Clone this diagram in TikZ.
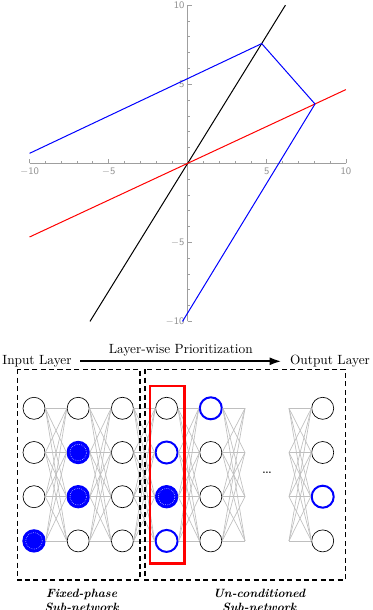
\documentclass[tikz,border=0pt]{standalone}
\usepackage{amsmath}
\usepackage{tikz}
\usetikzlibrary{arrows.meta,positioning}

\begin{document}
\begin{tikzpicture}[x=0.75pt, y=-0.75pt, neu/.style={circle, draw, fill=white, minimum size=16.5pt, inner sep=0pt, line width=0.5pt}, hot/.style={neu, draw=blue, line width=1.5pt}, act/.style={neu, draw=blue, fill=blue, line width=1pt, path picture={\draw[white, densely dotted, line width=0.4pt] (path picture bounding box.center) circle (6.2pt);}}, syn/.style={gray!50, line width=0.5pt}, arr/.style={-{Latex[length=9pt, width=6pt]}, line width=1.6pt}, grp/.style={line width=1.1pt, dash pattern=on 3.8pt off 2.5pt}, lbl/.style={align=center, font=\small\bfseries\itshape}, tk/.style={gray!75, line width=0.5pt}, tl/.style={text=gray!85, font=\sffamily\fontsize{7.5}{9}\selectfont, inner sep=1pt}]
\useasboundingbox (0,0) rectangle (372,610);
% plot
\begin{scope}[shift={(187.7,163.3)}, x=11.86pt, y=11.86pt]
\draw[tk] (-10,0) -- (10,0); \draw[tk] (0,-10) -- (0,10);
\foreach \k in {-10,...,10} {\draw[tk] (\k,0) -- (\k,0.13); \draw[tk] (0,\k) -- (0.13,\k);}
\foreach \k in {-10,-5,5,10} {\draw[tk] (\k,0) -- (\k,0.25); \draw[tk] (0,\k) -- (0.25,\k);}
\foreach \k/\t in {-10/$-$10, -5/$-$5, 5/5, 10/10} {\node[tl, below] at (\k,-0.2) {\t}; \node[tl, left] at (-0.1,\k) {\t};}
\draw[black, line width=0.75pt] (-6.18,-10) -- (6.18,10);
\draw[red, line width=0.75pt] (-10,-4.66) -- (10,4.66);
\draw[blue, line width=0.75pt] (-10,0.63) -- (4.68,7.57) -- (8.05,3.75) -- (-0.33,-10);
\end{scope}
% network
\node (inl) at (37,361.3) {Input Layer};
\node (outl) at (330,361.3) {Output Layer};
\draw[arr, shorten <=2.8pt, shorten >=2.8pt] (inl) -- node[above] {Layer-wise Prioritization} (outl);
\foreach \c/\r/\s in {1/1/neu,1/2/neu,1/3/neu,1/4/act, 2/1/neu,2/2/act,2/3/act,2/4/neu, 3/1/neu,3/2/neu,3/3/neu,3/4/neu, 4/1/neu,4/2/hot,4/3/act,4/4/hot, 5/1/hot,5/2/neu,5/3/neu,5/4/neu, 6/1/neu,6/2/neu,6/3/hot,6/4/neu}
  \node[\s] (n\c\r) at ({ifthenelse(\c<6, 34+44.2*(\c-1), 322.7)}, {408.3+44.2*(\r-1)}) {};
\foreach \r in {1,...,4} {\coordinate (s\r) at (245, {408.3+44.2*(\r-1)}); \coordinate (t\r) at (289, {408.3+44.2*(\r-1)});}
\foreach \c [evaluate=\c as \d using int(\c+1)] in {1,...,4}
  \foreach \r in {1,...,4} \foreach \q in {1,...,4} \draw[syn] (n\c\r.east) -- (n\d\q.west);
\foreach \r in {1,...,4} \foreach \q in {1,...,4} {\draw[syn] (n5\r.east) -- (s\q); \draw[syn] (t\r) -- (n6\q.west);}
\node[font=\large] (gap) at (267,473) {\dots};
\draw[red, line width=2pt] (150,386) rectangle (184.3,563.3);
\draw[grp] (17.3,369.3) rectangle (140,580);
\draw[grp] (145,369.3) rectangle (345.3,580);
\node[lbl] (fixl) at (81.7,600.5) {Fixed-phase\\Sub-network};
\node[lbl] (uncl) at (259.3,600.5) {Un-conditioned\\Sub-network};
\end{tikzpicture}
\end{document}
